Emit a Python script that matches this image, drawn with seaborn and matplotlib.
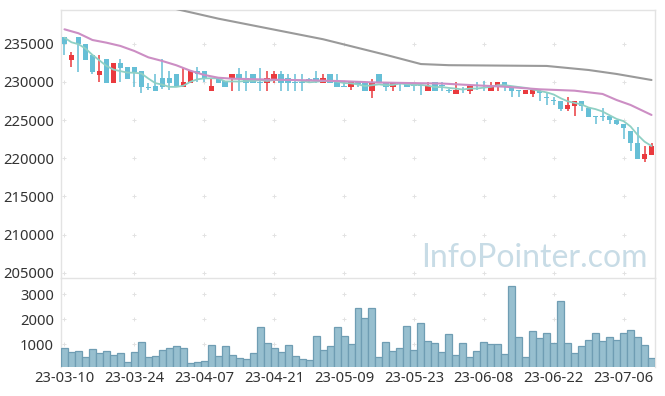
import numpy as np
import pandas as pd
import matplotlib
matplotlib.use("Agg")
import matplotlib.pyplot as plt
import seaborn as sns

# ---- data (KRW, daily) ----
opens = [235900, 232900, 235900, 235000, 233550, 230900, 233000, 229900, 232550, 232000,
         232000, 231450, 229350, 229500, 230500, 230500, 231050, 229400, 229900, 231450,
         231450, 228850, 230550, 230150, 230450, 231050, 230500, 231050, 230000, 229900,
         230450, 231050, 230500, 230000, 230000, 230350, 230500, 229900, 231050, 230000,
         229400, 229400, 229900, 230000, 228850, 231050, 230000, 229400, 229900, 230000,
         229550, 229550, 228850, 230000, 229550, 229000, 228450, 229000, 228850, 229550,
         229550, 228850, 229500, 230000, 229500, 228900, 228450, 228450, 228800, 228050,
         227550, 227500, 226500, 226900, 227450, 226550, 225500, 225500, 225500, 225000,
         224500, 223600, 221950, 219900, 220430]
highs = [235950, 233900, 235950, 235000, 233550, 233550, 233000, 232550, 232950, 232000,
         232000, 231450, 229850, 231050, 232950, 231450, 231050, 231850, 231450, 232000,
         231450, 230400, 230550, 230150, 231050, 231850, 231450, 231050, 231850, 231450,
         231450, 231450, 231050, 231050, 231050, 230550, 231450, 231050, 231050, 231050,
         229950, 230000, 230000, 230000, 230450, 231050, 230000, 230000, 230000, 230000,
         229550, 229550, 229950, 230000, 230000, 229050, 230000, 229400, 229500, 230050,
         230100, 230050, 230000, 230000, 229500, 228950, 228950, 228950, 228950, 228500,
         228000, 227500, 228000, 227450, 227450, 226550, 225500, 226550, 225500, 225000,
         224500, 223600, 224050, 221600, 221970]
lows = [233600, 231900, 231350, 232900, 231000, 229950, 229900, 229900, 229950, 230400,
        229400, 228500, 228950, 228850, 229050, 228950, 229400, 229400, 229900, 229950,
        229950, 228850, 229900, 229400, 228850, 228850, 228850, 229900, 228850, 228850,
        229900, 228850, 228850, 228850, 228850, 229900, 229900, 229900, 229900, 229400,
        229300, 228950, 229400, 228850, 227950, 229900, 228850, 228850, 228850, 229400,
        228850, 228300, 228850, 228850, 228850, 228500, 228450, 228500, 228450, 229000,
        228850, 228850, 228850, 228850, 228000, 228000, 228450, 228000, 227500, 226950,
        226950, 226150, 226150, 225500, 226150, 225450, 224500, 224950, 224500, 224300,
        222500, 221000, 219950, 219550, 220430]
closes = [235000, 233500, 234950, 232900, 231350, 231450, 229900, 232550, 231850, 230400,
          231350, 229400, 229250, 228850, 229400, 229900, 229400, 229950, 231450, 231050,
          230500, 229500, 229900, 229400, 231050, 230450, 229900, 229900, 229900, 230500,
          231050, 229900, 229900, 229900, 229900, 230200, 230200, 230500, 229900, 229400,
          229300, 230000, 229800, 228850, 229900, 229900, 229400, 230000, 229800, 229400,
          229450, 229450, 229500, 228850, 229450, 228850, 229000, 228900, 229500, 229450,
          229450, 229500, 230000, 229500, 228850, 228850, 228950, 228950, 228500, 227950,
          227450, 226500, 226950, 227450, 226900, 225450, 225450, 225400, 225000, 224500,
          224000, 221950, 219950, 220520, 221620]
# four closes before the first visible day (for the 5-day average)
pre_closes = [236500, 236200, 235700, 235600]

volumes = [826, 665, 705, 463, 785, 624, 705, 544, 624, 275,
           665, 1067, 463, 503, 745, 826, 906, 826, 222, 262,
           302, 946, 503, 906, 544, 423, 383, 624, 1671, 1027,
           826, 665, 946, 503, 383, 342, 1309, 745, 906, 1671,
           1309, 987, 2436, 2033, 2436, 463, 1067, 705, 826, 1711,
           745, 1832, 1107, 1027, 665, 1389, 544, 1027, 463, 705,
           1067, 987, 987, 584, 3322, 1268, 463, 1510, 1228, 1429,
           1027, 2718, 1027, 624, 906, 1148, 1429, 1107, 1268, 1148,
           1429, 1550, 1268, 946, 423]

# 20-day and long moving averages, read at a few trading days
ma20_days = [0, 2, 4, 6, 8, 10, 12, 14, 16, 18, 20, 22, 24, 30, 36, 40, 44, 50, 54,
             58, 63, 68, 73, 77, 79, 81, 84]
ma20_vals = [236900, 236380, 235500, 235150, 234720, 234060, 233230, 232750, 232190,
             231480, 230920, 230560, 230430, 230300, 230200, 230100, 229950, 229850,
             229800, 229600, 229380, 229040, 228860, 228430, 227640, 226990, 225680]
ma_long_days = [0, 22, 37, 46, 51, 55, 69, 75, 79, 84]
ma_long_vals = [242900, 238300, 235600, 233550, 232350, 232200, 232100, 231570, 231050, 230260]

holidays = ["2023-05-01", "2023-05-05", "2023-05-29", "2023-06-06"]
days = pd.bdate_range("2023-03-10", "2023-07-12")
days = days[~days.isin(pd.to_datetime(holidays))]
day_labels = list(days.strftime("%y-%m-%d"))

price_ticks = [205000, 210000, 215000, 220000, 225000, 230000, 235000]
vol_ticks = [1000, 2000, 3000]

# ---- styling ----
sns.set_style("white")
plt.rcParams["font.family"] = ["Noto Sans", "DejaVu Sans"]

UP = "#ea3a3e"
DOWN = "#66bfd6"
GRID = "#e2e2e2"
TXT = "#333333"

df = pd.DataFrame({"day": np.arange(len(closes)), "open": opens, "high": highs,
                   "low": lows, "close": closes, "volume": volumes})
all_closes = pd.Series(pre_closes + closes)
df["ma5"] = all_closes.rolling(5).mean().iloc[len(pre_closes):].values
df["up"] = df["close"] >= df["open"]

fig = plt.figure(figsize=(6.65, 3.96), dpi=100)
ax = fig.add_axes([61 / 665, 1 - 278 / 396, 594 / 665, 268 / 396])
axv = fig.add_axes([61 / 665, 1 - 367 / 396, 594 / 665, 89 / 396], sharex=ax)

# candles
cols = np.where(df["up"], UP, DOWN)
ax.vlines(df["day"], df["low"], df["high"], colors=cols, lw=1.1, zorder=3)
body_lo = np.minimum(df["open"], df["close"])
body_h = np.maximum(np.abs(df["close"] - df["open"]), 140)
ax.bar(df["day"], body_h, bottom=body_lo, width=0.78, color=cols, lw=0, zorder=4)

# moving averages
sns.lineplot(data=df, x="day", y="ma5", color="#8fd0c4", lw=1.3, ax=ax, zorder=5)
sns.lineplot(x=ma20_days, y=ma20_vals, color="#cc8ec4", lw=1.5, ax=ax, zorder=5)
sns.lineplot(x=ma_long_days, y=ma_long_vals, color="#9a9a9a", lw=1.5, ax=ax, zorder=5)

# volume
sns.barplot(data=df, x="day", y="volume", native_scale=True, width=1.0,
            color="#97bfcf", edgecolor="#6f9db3", linewidth=0.9, saturation=1,
            errorbar=None, ax=axv, zorder=3)

tick_days = list(range(0, len(df), 10))
for a, yt in ((ax, price_ticks), (axv, vol_ticks)):
    gx, gy = np.meshgrid(tick_days, yt)
    a.scatter(gx.ravel(), gy.ravel(), marker="+", s=9, color=GRID, lw=0.7, zorder=0.5)
    a.set_yticks(yt)
    a.set_xlabel("")
    a.set_ylabel("")
    for s in a.spines.values():
        s.set_color("#e3e3e3")
        s.set_linewidth(1)
    a.tick_params(length=0, labelsize=10.6, colors=TXT, pad=5)

ax.set_xlim(-0.5, len(df) - 0.5)
ax.set_ylim(204320, 239430)
axv.set_ylim(75, 3655)
axv.spines["bottom"].set_visible(False)
ax.spines["bottom"].set_visible(False)
ax.tick_params(axis="x", labelbottom=False)
axv.tick_params(axis="x", pad=3)
axv.set_xticks(tick_days)
axv.set_xticklabels([day_labels[i] for i in tick_days])

ax.text(0.988, 0.041, "InfoPointer.com", transform=ax.transAxes, ha="right",
        va="baseline", fontsize=23, family="Lato", color="#c8dce6", zorder=0)

fig.savefig("out.png", dpi=100)
